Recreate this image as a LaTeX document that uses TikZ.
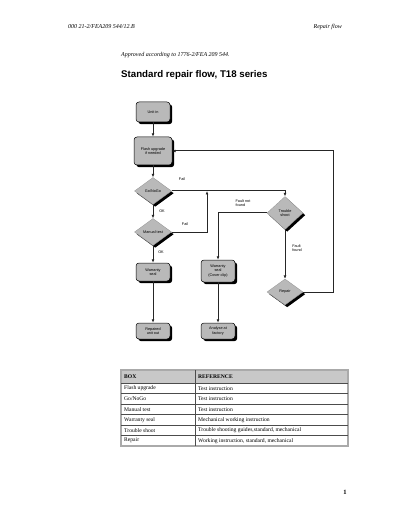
\documentclass[tikz,border=0pt]{standalone}
\usepackage{fontspec}
\setmainfont{Liberation Serif}
\setsansfont{Liberation Sans}
\usetikzlibrary{shapes.geometric,shadows,arrows.meta}
\definecolor{boxgray}{RGB}{185,185,185}
\definecolor{hdrgray}{RGB}{200,200,200}
\definecolor{framegray}{RGB}{170,170,170}
\begin{document}
\begin{tikzpicture}[x=1pt,y=-1pt,
  shade/.style={drop shadow={shadow xshift=2.2pt, shadow yshift=-2.2pt, fill=black, opacity=1}},
  box/.style={draw=black, line width=0.5pt, fill=boxgray, rounded corners=3pt,
    minimum width=34pt, align=center, inner sep=1pt, shade,
    font=\sffamily\fontsize{3.8}{4.5}\selectfont},
  dia/.style={diamond, fill=boxgray, draw=boxgray!80!black, line width=0.3pt, minimum width=37pt,
    minimum height=27pt, inner sep=0pt, align=center, shade,
    font=\sffamily\fontsize{3.8}{4.5}\selectfont},
  conn/.style={draw=black!85, line width=1pt},
  arr/.style={conn, -{Latex[length=3.4pt,width=2.8pt]}},
  lbl/.style={font=\sffamily\fontsize{3.8}{4.5}\selectfont, align=left, inner sep=0pt},
  hdr/.style={font=\itshape\fontsize{6}{7}\selectfont, inner sep=0pt},
  cell/.style={font=\fontsize{5.6}{6.5}\selectfont, anchor=west, inner sep=0pt},
  hcell/.style={cell, font=\bfseries\fontsize{5.6}{6.5}\selectfont}
]
\useasboundingbox (0,0) rectangle (400,518);
\fill[white] (0,0) rectangle (400,518);

% page header
\node[hdr, anchor=west] (docno) at (68,27) {000 21-2/FEA209 544/12.B};
\node[hdr, anchor=east] (sect) at (342,27) {Repair flow};
\node[hdr, anchor=west] (appr) at (121,55) {Approved according to 1776-2/FEA 209 544.};
\node[anchor=west, inner sep=0pt, font=\sffamily\bfseries\fontsize{9.7}{11}\selectfont] (title) at (121,75) {Standard repair flow, T18 series};

% flow nodes
\node[box, minimum height=20pt] (unitin) at (153,112) {Unit in};
\node[box, minimum height=28pt, minimum width=38pt] (flash) at (153,151) {Flash upgrade\\if needed};
\node[dia] (gonogo) at (153,191) {Go/NoGo};
\node[dia] (manual) at (153,232) {Manual test};
\node[box, minimum height=18pt] (wseal) at (153,272) {Warranty\\seal};
\node[box, minimum height=22pt] (wseal2) at (218,271) {Warranty\\seal\\(Cover clip)};
\node[box, minimum height=16pt] (out) at (153,331) {Repaired\\unit out};
\node[box, minimum height=16pt] (factory) at (218,331) {Analyse at\\factory};
\node[dia, minimum width=36pt, minimum height=33pt] (trouble) at (285,213) {Trouble\\shoot};
\node[dia, minimum width=36pt, minimum height=26pt] (repair) at (285,292) {Repair};

% connectors
\draw[arr] (unitin) -- (flash);
\draw[arr] (flash) -- (gonogo);
\draw[arr] (gonogo.east) -| (trouble.north);
\draw[arr] (gonogo) -- (manual);
\coordinate (join) at (207,191);
\draw[arr] (manual.east) -| (join);
\draw[arr] (manual) -- (wseal);
\draw[arr] (wseal) -- (out);
\draw[arr] (trouble.west) -| (wseal2.north);
\draw[arr] (wseal2) -- (factory);
\draw[arr] (trouble) -- (repair);
\coordinate (rc) at (333,292);
\coordinate (tc) at (333,151);
\draw[arr] (repair.east) -- (rc) -- (tc) -- (flash.east);

% connector labels
\node[lbl] (lfail1) at (182,179) {Fail};
\node[lbl] (lok1) at (162,211) {OK};
\node[lbl] (lfail2) at (185,224) {Fail};
\node[lbl] (lok2) at (161,252) {OK};
\node[lbl] (lnf) at (243,203) {Fault not\\found};
\node[lbl] (lff) at (297,248) {Fault\\found};

% table
\fill[hdrgray] (121,370) rectangle (348,383);
\draw[framegray, line width=1.6pt] (121,370) rectangle (348,446);
\foreach \yy in {383,393.5,404,414.5,425,435.5}
  \draw[black!70, line width=0.4pt] (121,\yy) -- (348,\yy);
\draw[black!70, line width=0.4pt] (195,370) -- (195,446);
\node[hcell] (h1) at (124,376.5) {BOX};
\node[hcell] (h2) at (198,376.5) {REFERENCE};
\node[cell] (a1) at (124,388.2) {Flash upgrade};
\node[cell] (b1) at (198,388.2) {Test instruction};
\node[cell] (a2) at (124,398.7) {Go/NoGo};
\node[cell] (b2) at (198,398.7) {Test instruction};
\node[cell] (a3) at (124,409.2) {Manual test};
\node[cell] (b3) at (198,409.2) {Test instruction};
\node[cell] (a4) at (124,419.7) {Warranty seal};
\node[cell] (b4) at (198,419.7) {Mechanical working instruction};
\node[cell] (a5) at (124,430.2) {Trouble shoot};
\node[cell] (b5) at (198,430.2) {Trouble shooting guides,standard, mechanical};
\node[cell] (a6) at (124,440.7) {Repair};
\node[cell] (b6) at (198,440.7) {Working instruction, standard, mechanical};

\node[font=\bfseries\fontsize{6.5}{8}\selectfont, inner sep=0pt] (pageno) at (345,492) {1};
\end{tikzpicture}
\end{document}
